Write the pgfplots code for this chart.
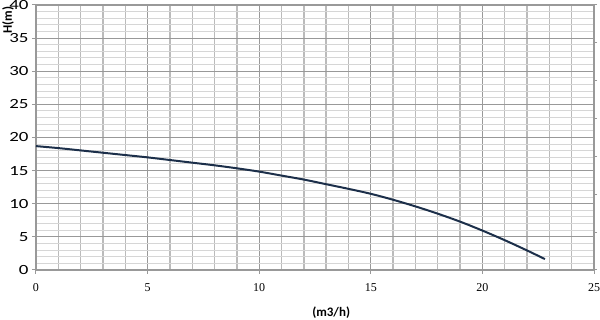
\documentclass[border=0pt]{standalone}
\usepackage{pgfplots}
\pgfplotsset{compat=1.18}
\usepackage{fontspec}
\setmainfont{Liberation Serif}
\newfontfamily\carl{Carlito}
\definecolor{curve}{HTML}{1C2F4A}
\definecolor{majg}{HTML}{999999}
\definecolor{minxg}{HTML}{BBBBBB}
\definecolor{minyg}{HTML}{D6D6D6}
\begin{document}
\begin{tikzpicture}[x=1pt,y=1pt]
\useasboundingbox (0,0) rectangle (600,320);
\begin{axis}[
  at={(36pt,50pt)}, anchor=south west,
  scale only axis, width=558pt, height=265pt,
  xmin=0, xmax=25, ymin=0, ymax=40,
  xtick={0,5,...,25}, ytick={0,5,...,40},
  minor x tick num=4, minor y tick num=4,
  grid=both,
  major grid style={majg, line width=1.1pt},
  minor x grid style={minxg, line width=1.4pt},
  minor y grid style={minyg, line width=1pt},
  axis line style={majg, line width=1.1pt},
  xtick pos=bottom, ytick pos=left,
  tick align=outside, major tick length=4pt, minor tick length=0pt,
  tick style={majg, line width=1pt},
  /pgf/number format/assume math mode=true,
  xticklabel style={font=\fontsize{12}{12}\selectfont, yshift=-6pt},
  yticklabel style={font=\carl\fontsize{14}{14}\selectfont},
  yticklabel={\scalebox{1.35}[1]{\pgfmathprintnumber{\tick}}},
  xlabel={\carl\bfseries (m3/h)},
  xlabel style={font=\fontsize{13}{13}\selectfont, inner sep=0pt, at={(rel axis cs:0.529,-0.162)}, anchor=center},
  ylabel={\carl\bfseries H(m)},
  ylabel style={font=\fontsize{13}{13}\selectfont, at={(rel axis cs:-0.05,1.0075)}, anchor=east},
]
\addplot[curve, line width=2pt, smooth] coordinates {
(0,18.7) (1,18.4) (2,18.05) (3,17.7) (4,17.35) (5,17.0) (6,16.6) (7,16.2)
(8,15.8) (9,15.35) (10,14.85) (11,14.25) (12,13.65) (13,12.95) (14,12.25)
(15,11.5) (16,10.6) (17,9.6) (18,8.5) (19,7.3) (20,5.95) (21,4.5) (22,2.95) (22.8,1.65)
};
\end{axis}
\begin{axis}[
  at={(36pt,50pt)}, anchor=south west,
  scale only axis, width=558pt, height=265pt,
  xmin=0, xmax=25, ymin=0, ymax=7,
  hide x axis, axis y line*=right,
  axis line style={majg, line width=1.1pt, -},
  ytick={0,1,...,7}, yticklabels={},
  tick align=outside, major tick length=3pt,
  tick style={majg, line width=1pt},
]
\end{axis}
\end{tikzpicture}
\end{document}
